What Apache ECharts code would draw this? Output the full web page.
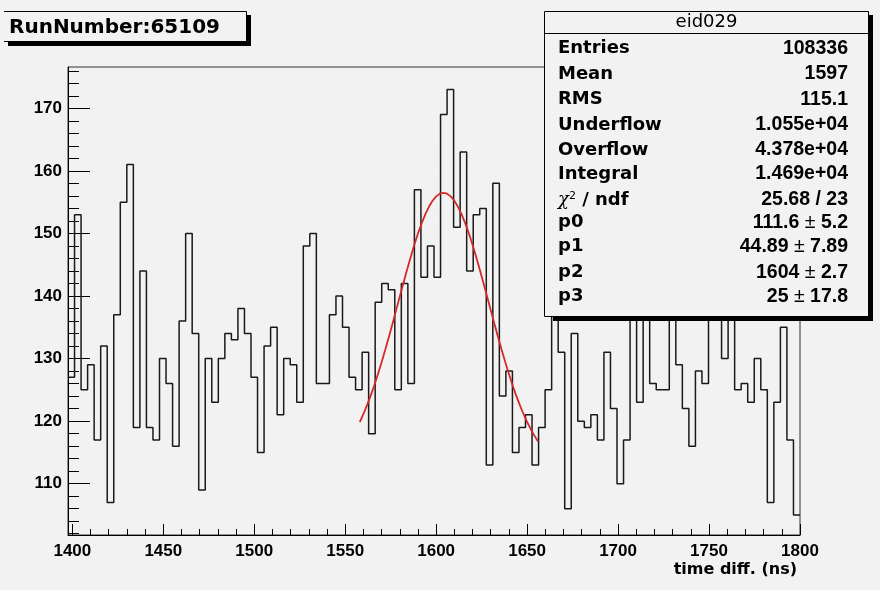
<!DOCTYPE html>
<html><head><meta charset="utf-8">
<script src="https://cdn.jsdelivr.net/npm/echarts@6/dist/echarts.min.js"></script>
<style>html,body{margin:0;padding:0;background:#f2f2f2}#c{width:880px;height:590px}</style>
</head><body><div id="c"></div>
<script>
// ---- data ----
const binStart = 1397.6;   // low edge of first displayed bin (ns)
const binWidth = 3.593;    // ns per bin
const counts = [
  127,153,125,129,117,132,107,137,155,161,
  119,144,119,117,130,126,116,136,150,134,
  109,130,123,130,134,133,138,134,127,115,
  132,135,121,130,129,123,148,150,126,126,
  137,140,135,127,125,131,118,139,142,141,
  125,142,126,157,143,148,143,169,173,151,
  163,144,153,154,113,158,124,128,115,119,
  121,113,119,125,140,131,106,134,120,119,
  121,117,131,122,110,117,145,123,142,126,
  125,125,138,129,122,116,128,126,141,146,
  130,139,125,126,123,130,125,107,123,135,
  117,105
];
const xTickLabels = [1400,1450,1500,1550,1600,1650,1700,1750,1800];
const xMinorTicks = [1400,1410,1420,1430,1440,1450,1460,1470,1480,1490,1500,1510,1520,1530,1540,1550,1560,1570,1580,1590,1600,1610,1620,1630,1640,1650,1660,1670,1680,1690,1700,1710,1720,1730,1740,1750,1760,1770,1780,1790,1800];
const yTickLabels = [110,120,130,140,150,160,170];
const yMinorTicks = [102,104,106,108,110,112,114,116,118,120,122,124,126,128,130,132,134,136,138,140,142,144,146,148,150,152,154,156,158,160,162,164,166,168,170,172,174,176];
// fit curve (gaus + const, p0=111.6 p1=44.89 p2=1604 p3=25), sampled values
const fitX = [1558,1560,1562,1564,1566,1568,1570,1572,1574,1576,1578,1580,1582,1584,1586,1588,1590,1592,1594,1596,1598,1600,1602,1604,1606,1608,1610,1612,1614,1616,1618,1620,1622,1624,1626,1628,1630,1632,1634,1636,1638,1640,1642,1644,1646,1648,1650,1652,1654,1656];
const fitY = [119.86,121.14,122.55,124.08,125.74,127.52,129.40,131.39,133.45,135.58,137.74,139.92,142.08,144.20,146.24,148.18,149.98,151.61,153.04,154.25,155.22,155.92,156.35,156.49,156.35,155.92,155.22,154.25,153.04,151.61,149.98,148.18,146.24,144.20,142.08,139.92,137.74,135.58,133.45,131.39,129.40,127.52,125.74,124.08,122.55,121.14,119.86,118.71,117.68,116.76];
const runLabel = 'RunNumber:65109';
const statsTitle = 'eid029';
const statsLabels = ['Entries','Mean','RMS','Underflow','Overflow','Integral','{g|χ}{s|2}{b| / ndf}','p0','p1','p2','p3'];
const statsValues = ['108336','1597','115.1','1.055e+04','4.378e+04','1.469e+04','25.68 / 23','111.6 ± 5.2','44.89 ± 7.89','1604 ± 2.7','25 ± 17.8'];
const axisTitle = 'time diff. (ns)';

// ---- build ----
const histData = counts.map((v, i) => [binStart + i * binWidth, v]);
histData.push([binStart + counts.length * binWidth, counts[counts.length - 1]]);
const xMax = binStart + counts.length * binWidth;
const fitData = fitX.map((x, i) => [x, fitY[i]]);

const BG = '#f2f2f2';
const labelFont = { color: '#000', fontFamily: 'Liberation Sans', fontWeight: 'bold', fontSize: 17 };
const rowY = [48.3, 74, 99.3, 125, 150, 174, 200, 222.7, 246.7, 272.7, 296.7];
const plain = v => String(v);

const graphics = [];
// title box
graphics.push({ type: 'rect', z: 100, shape: { x: 8, y: 15, width: 243, height: 31 }, style: { fill: '#000' } });
graphics.push({ type: 'rect', z: 101, shape: { x: 4, y: 11.5, width: 242.5, height: 30 }, style: { fill: BG, stroke: null } });
graphics.push({ type: 'polyline', z: 102, shape: { points: [[4, 11.5], [246.5, 11.5], [246.5, 41.5], [4, 41.5]] }, style: { stroke: '#000', lineWidth: 1, fill: null } });
graphics.push({ type: 'text', z: 103, x: 9, y: 28, style: { text: runLabel, fontFamily: 'DejaVu Sans', fontWeight: 'bold', fontSize: 20, fill: '#000', textAlign: 'left', textVerticalAlign: 'middle', align: 'left', verticalAlign: 'middle' } });
// stats box
graphics.push({ type: 'rect', z: 100, shape: { x: 553, y: 15, width: 320, height: 306 }, style: { fill: '#000' } });
graphics.push({ type: 'rect', z: 101, shape: { x: 544.5, y: 11.5, width: 324, height: 305 }, style: { fill: BG, stroke: '#000', lineWidth: 1 } });
graphics.push({ type: 'line', z: 102, shape: { x1: 544.5, y1: 33.5, x2: 868.5, y2: 33.5 }, style: { stroke: '#000', lineWidth: 1 } });
graphics.push({ type: 'text', z: 103, x: 706.5, y: 22.5, style: { text: statsTitle, fontFamily: 'DejaVu Sans', fontSize: 18, fill: '#000', textAlign: 'center', textVerticalAlign: 'middle', align: 'center', verticalAlign: 'middle' } });
statsLabels.forEach((t, i) => {
  graphics.push({ type: 'text', z: 103, x: 558, y: rowY[i], style: {
    text: t, fontFamily: 'DejaVu Sans', fontWeight: 'bold', fontSize: 18, fill: '#000',
    textAlign: 'left', textVerticalAlign: 'middle', align: 'left', verticalAlign: 'middle',
    rich: {
      g: { fontFamily: 'DejaVu Serif', fontStyle: 'italic', fontSize: 18, fill: '#000' },
      s: { fontFamily: 'DejaVu Sans', fontSize: 11, verticalAlign: 'top', padding: [0, 0, 8, 0], fill: '#000' },
      b: { fontFamily: 'DejaVu Sans', fontWeight: 'bold', fontSize: 18, fill: '#000' }
    } } });
});
statsValues.forEach((t, i) => {
  const rt = t.split('±').map(p => '{v|' + p + '}').join('{pm|±}');
  graphics.push({ type: 'text', z: 103, x: 848, y: rowY[i], style: {
    text: rt, fill: '#000', textAlign: 'right', textVerticalAlign: 'middle', align: 'right', verticalAlign: 'middle',
    rich: {
      v: { fontFamily: 'Liberation Sans', fontWeight: 'bold', fontSize: 19.5, fill: '#000' },
      pm: { fontFamily: 'Liberation Sans', fontSize: 19.5, fill: '#000' }
    } } });
});
// x-axis title
graphics.push({ type: 'text', z: 103, x: 797, y: 570, style: { text: axisTitle, fontFamily: 'DejaVu Sans', fontWeight: 'bold', fontSize: 16, fill: '#000', textAlign: 'right', textVerticalAlign: 'middle', align: 'right', verticalAlign: 'middle' } });

const chart = echarts.init(document.getElementById('c'), null, { renderer: 'canvas' });
chart.setOption({
  backgroundColor: BG,
  animation: false,
  grid: { left: 68, right: 80, top: 67, bottom: 55, containLabel: false, outerBoundsMode: 'none',
          show: true, borderColor: '#333', borderWidth: 1, backgroundColor: 'transparent' },
  xAxis: [
    { type: 'value', min: binStart, max: xMax, position: 'bottom',
      axisLine: { show: true, onZero: false, lineStyle: { color: '#000', width: 1 } },
      axisTick: { show: true, inside: true, length: 11, customValues: xTickLabels, lineStyle: { color: '#000' } },
      axisLabel: Object.assign({ show: true, margin: 8, customValues: xTickLabels, formatter: plain }, labelFont),
      splitLine: { show: false }
    },
    { type: 'value', min: binStart, max: xMax, position: 'bottom',
      axisLine: { show: false },
      axisTick: { show: true, inside: true, length: 6, customValues: xMinorTicks, lineStyle: { color: '#000' } },
      axisLabel: { show: false }, splitLine: { show: false } }
  ],
  yAxis: [
    { type: 'value', min: 101.8, max: 176.6, position: 'left',
      axisLine: { show: true, onZero: false, lineStyle: { color: '#000', width: 1 } },
      axisTick: { show: true, inside: true, length: 22, customValues: yTickLabels, lineStyle: { color: '#000' } },
      axisLabel: Object.assign({ show: true, margin: 6, customValues: yTickLabels, formatter: plain }, labelFont),
      splitLine: { show: false } },
    { type: 'value', min: 101.8, max: 176.6, position: 'left',
      axisLine: { show: false },
      axisTick: { show: true, inside: true, length: 11, customValues: yMinorTicks, lineStyle: { color: '#000' } },
      axisLabel: { show: false }, splitLine: { show: false } }
  ],
  series: [
    { type: 'line', name: 'eid029', data: histData, step: 'end', symbol: 'none', clip: true,
      xAxisIndex: 0, yAxisIndex: 0,
      lineStyle: { color: '#1a1a1a', width: 1.5 }, z: 3 },
    { type: 'line', name: 'fit', data: fitData, symbol: 'none', smooth: false, clip: true,
      xAxisIndex: 0, yAxisIndex: 0,
      lineStyle: { color: '#d42a2a', width: 1.8 }, z: 4 }
  ],
  graphic: graphics
});
</script>
</body></html>
